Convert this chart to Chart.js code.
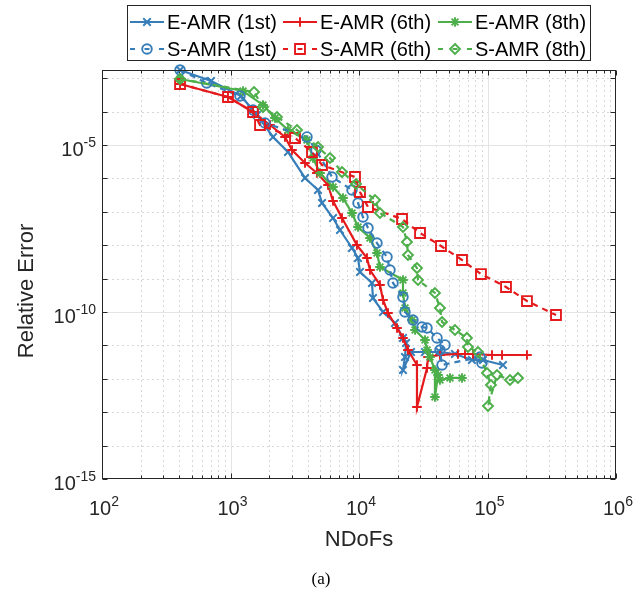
<!DOCTYPE html>
<html>
<head>
<meta charset="utf-8">
<style>
html,body{margin:0;padding:0;background:#ffffff;}
#wrap{position:relative;width:641px;height:592px;}
</style>
<script src="https://cdn.jsdelivr.net/npm/chart.js@4.4.0/dist/chart.umd.min.js"></script>
</head>
<body>
<div id="wrap"><canvas id="c" width="641" height="592"></canvas></div>
<script>
// ---------------- data ----------------
const eAmr1stNdofs = [405, 705, 1207, 1607, 2143, 2801, 3800, 4797, 5155, 6280, 7114, 8822, 9822, 10180, 12620, 12850, 15380, 19060, 21990, 23230, 22800, 21990, 25400, 32640, 42660, 55830, 75680, 92260, 132000];
const eAmr1stErr   = [1.76e-3, 8.24e-4, 2.93e-4, 7.91e-5, 1.74e-5, 6.17e-6, 1.03e-6, 4.50e-7, 1.83e-7, 6.52e-8, 2.85e-8, 8.24e-9, 4.14e-9, 1.58e-9, 7.38e-10, 2.62e-10, 1.0e-10, 4.69e-11, 1.67e-11, 1.18e-11, 4.49e-12, 1.83e-12, 6.34e-12, 6.34e-12, 6.34e-12, 5.52e-12, 3.66e-12, 3.66e-12, 2.59e-12];

const sAmr1stNdofs = [405, 653, 1185, 1497, 1855, 3937, 4626, 6166, 8822, 9822, 10740, 11750, 13800, 16520, 17420, 18390, 21990, 22800, 26300, 30900, 33830, 40460, 46670, 42660, 44260, 87430, 90570];
const sAmr1stErr   = [1.76e-3, 7.18e-4, 2.93e-4, 1.12e-4, 4.56e-5, 1.74e-5, 7.08e-6, 1.10e-6, 4.50e-7, 1.83e-7, 6.98e-8, 3.27e-8, 1.16e-8, 4.43e-9, 1.81e-9, 7.38e-10, 2.81e-10, 1.0e-10, 5.75e-11, 3.56e-11, 3.32e-11, 1.67e-11, 1.03e-11, 7.28e-12, 2.59e-12, 4.49e-12, 2.97e-12];

const eAmr6thNdofs = [405, 956, 1497, 2029, 2655, 3011, 3800, 4700, 5741, 6280, 7376, 9641, 11540, 12180, 14560, 15380, 16820, 19760, 21990, 24050, 28260, 28260, 33830, 34450, 42660, 58900, 66830, 77090, 108400, 129700, 202800];
const eAmr6thErr   = [6.70e-4, 2.74e-4, 9.73e-5, 3.97e-5, 1.74e-5, 7.08e-6, 2.89e-6, 1.45e-6, 6.34e-7, 2.10e-7, 6.52e-8, 1.01e-8, 4.14e-9, 1.81e-9, 6.43e-10, 2.29e-10, 9.33e-11, 3.32e-11, 1.67e-11, 7.28e-12, 2.59e-12, 1.43e-13, 2.10e-12, 4.49e-12, 5.16e-12, 5.52e-12, 5.52e-12, 5.52e-12, 5.16e-12, 5.16e-12, 5.16e-12];

const sAmr6thNdofs = [405, 956, 1497, 1697, 3177, 4306, 5155, 9310, 10180, 11750, 21620, 29850, 43450, 63320, 88920, 139300, 202800, 341200];
const sAmr6thErr   = [6.70e-4, 2.74e-4, 9.73e-5, 3.97e-5, 1.62e-5, 6.17e-6, 2.52e-6, 1.10e-6, 3.92e-7, 1.39e-7, 6.08e-8, 2.32e-8, 9.46e-9, 3.61e-9, 1.37e-9, 5.61e-10, 2.13e-10, 8.13e-11];

const eAmr8thNdofs = [405, 1251, 1790, 2219, 2801, 3937, 4385, 4973, 6280, 7505, 8822, 9822, 12180, 13800, 14560, 21990, 21990, 22800, 25850, 27290, 32640, 33830, 35680, 38990, 38990, 41200, 42660, 51050, 63320];
const eAmr8thErr   = [9.46e-4, 4.14e-4, 1.58e-4, 6.43e-5, 2.81e-5, 1.41e-5, 4.08e-6, 1.45e-6, 5.53e-7, 2.59e-7, 9.21e-8, 3.51e-8, 1.64e-8, 5.84e-9, 2.22e-9, 9.08e-10, 3.71e-10, 1.32e-10, 5.75e-11, 2.89e-11, 1.45e-11, 7.28e-12, 4.49e-12, 1.83e-12, 2.85e-13, 1.30e-12, 9.21e-13, 1.06e-12, 1.06e-12];

const sAmr8thNdofs = [405, 1524, 1790, 2300, 3293, 4797, 5946, 7376, 9480, 13320, 14560, 21990, 23620, 24050, 28260, 28770, 38990, 42660, 44260, 55830, 69180, 70470, 84330, 99080, 106400, 100900, 118600, 149600, 172600];
const sAmr8thErr   = [9.46e-4, 3.86e-4, 1.37e-4, 6.89e-5, 2.81e-5, 8.71e-6, 4.08e-6, 1.55e-6, 6.79e-7, 2.25e-7, 9.21e-8, 3.51e-8, 1.25e-8, 5.09e-9, 2.07e-9, 9.08e-10, 3.71e-10, 1.32e-10, 5.02e-11, 2.89e-11, 1.67e-11, 8.95e-12, 6.34e-12, 1.49e-12, 6.52e-13, 1.53e-13, 1.30e-12, 9.21e-13, 1.06e-12];

const seriesLabels = ['E-AMR (1st)', 'E-AMR (6th)', 'E-AMR (8th)', 'S-AMR (1st)', 'S-AMR (6th)', 'S-AMR (8th)'];

// axis ticks
const xMin = 1e2, xMax = 1e6;
const yMin = 1e-15, yMax = 1.76e-3;
const xDecadeTicks = [1e2, 1e3, 1e4, 1e5, 1e6];
const xMinorMultipliers = [2, 3, 4, 5, 6, 7, 8, 9];
const xTickLabels = ['10^2', '10^3', '10^4', '10^5', '10^6'];
const yDecadeTicks = [1e-15, 1e-14, 1e-13, 1e-12, 1e-11, 1e-10, 1e-9, 1e-8, 1e-7, 1e-6, 1e-5, 1e-4, 1e-3];
const yLabelTicks = [1e-15, 1e-10, 1e-5];
const yTickLabels = ['10^-15', '10^-10', '10^-5'];
const xTitle = 'NDoFs';
const yTitle = 'Relative Error';
const caption = '(a)';

// ---------------- styles ----------------
const BLUE = '#377eb8', RED = '#e41a1c', GREEN = '#4daf4a';
const AX = '#262626';
const SANS = '"Liberation Sans", Arial, Helvetica, sans-serif';
const SERIF = '"Liberation Serif", "Times New Roman", serif';
const DASH = [6, 5];

const styleOf = {
  'E-AMR (1st)': {color: BLUE, marker: 'crossRot', r: 5.3, dash: []},
  'E-AMR (6th)': {color: RED, marker: 'cross', r: 4.8, dash: []},
  'E-AMR (8th)': {color: GREEN, marker: 'star', r: 4.8, dash: []},
  'S-AMR (1st)': {color: BLUE, marker: 'circle', r: 4.8, dash: DASH},
  'S-AMR (6th)': {color: RED, marker: 'rect', r: 7, dash: DASH},
  'S-AMR (8th)': {color: GREEN, marker: 'rectRot', r: 5, dash: DASH}
};

const seriesData = {
  'E-AMR (1st)': [eAmr1stNdofs, eAmr1stErr],
  'E-AMR (6th)': [eAmr6thNdofs, eAmr6thErr],
  'E-AMR (8th)': [eAmr8thNdofs, eAmr8thErr],
  'S-AMR (1st)': [sAmr1stNdofs, sAmr1stErr],
  'S-AMR (6th)': [sAmr6thNdofs, sAmr6thErr],
  'S-AMR (8th)': [sAmr8thNdofs, sAmr8thErr]
};

function makeDataset(label, order) {
  const [xs, ys] = seriesData[label];
  const s = styleOf[label];
  return {
    label,
    data: xs.map((v, i) => ({x: v, y: ys[i]})),
    showLine: true,
    borderColor: s.color,
    backgroundColor: s.color,
    borderWidth: 2.2,
    borderDash: s.dash,
    pointStyle: s.marker,
    pointRadius: s.r,
    pointHoverRadius: s.r,
    pointBorderWidth: 1.9,
    pointBorderColor: s.color,
    pointBackgroundColor: 'rgba(0,0,0,0)',
    tension: 0,
    clip: 10,
    order
  };
}

// ---------------- drawing helpers ----------------
function drawMarker(ctx, style, x, y, r) {
  ctx.beginPath();
  const d = r * Math.SQRT1_2;
  if (style === 'crossRot' || style === 'star') {
    ctx.moveTo(x - d, y - d); ctx.lineTo(x + d, y + d);
    ctx.moveTo(x - d, y + d); ctx.lineTo(x + d, y - d);
  }
  if (style === 'cross' || style === 'star') {
    ctx.moveTo(x - r, y); ctx.lineTo(x + r, y);
    ctx.moveTo(x, y - r); ctx.lineTo(x, y + r);
  }
  if (style === 'circle') { ctx.arc(x, y, r, 0, Math.PI * 2); }
  if (style === 'rect') { ctx.rect(x - d, y - d, 2 * d, 2 * d); }
  if (style === 'rectRot') {
    ctx.moveTo(x, y - r); ctx.lineTo(x + r, y); ctx.lineTo(x, y + r); ctx.lineTo(x - r, y); ctx.closePath();
  }
  ctx.stroke();
}

function drawPowerLabel(ctx, text, x, baseY, align) {
  const [base, exp] = text.split('^');
  ctx.font = '20px ' + SANS;
  const wb = ctx.measureText(base).width;
  ctx.font = '14px ' + SANS;
  const we = ctx.measureText(exp).width;
  const w = wb + we;
  let x0 = align === 'right' ? x - w : x - w / 2;
  ctx.textAlign = 'left';
  ctx.textBaseline = 'alphabetic';
  ctx.font = '20px ' + SANS;
  ctx.fillText(base, x0, baseY);
  ctx.font = '14px ' + SANS;
  ctx.fillText(exp, x0 + wb, baseY - 9);
}

function hline(ctx, x1, x2, y) { ctx.beginPath(); ctx.moveTo(x1, y); ctx.lineTo(x2, y); ctx.stroke(); }
function vline(ctx, x, y1, y2) { ctx.beginPath(); ctx.moveTo(x, y1); ctx.lineTo(x, y2); ctx.stroke(); }

const decorPlugin = {
  id: 'decor',
  beforeDatasetsDraw(chart) {
    const ctx = chart.ctx, a = chart.chartArea, xs = chart.scales.x, ys = chart.scales.y;
    ctx.save();
    ctx.lineWidth = 1;
    // minor grid (dotted)
    ctx.strokeStyle = '#d8d8d8';
    ctx.setLineDash([2, 3]);
    for (let i = 0; i < xDecadeTicks.length - 1; i++) {
      for (const m of xMinorMultipliers) {
        const px = Math.round(xs.getPixelForValue(xDecadeTicks[i] * m)) + 0.5;
        vline(ctx, px, a.top, a.bottom);
      }
    }
    for (const v of yDecadeTicks) {
      if (yLabelTicks.includes(v)) continue;
      const py = Math.round(ys.getPixelForValue(v)) + 0.5;
      hline(ctx, a.left, a.right, py);
    }
    // major grid (solid)
    ctx.setLineDash([]);
    ctx.strokeStyle = '#e4e4e4';
    for (const v of xDecadeTicks.slice(1, -1)) {
      const px = Math.round(xs.getPixelForValue(v)) + 0.5;
      vline(ctx, px, a.top, a.bottom);
    }
    for (const v of yLabelTicks.slice(1)) {
      const py = Math.round(ys.getPixelForValue(v)) + 0.5;
      hline(ctx, a.left, a.right, py);
    }
    // tick marks
    ctx.strokeStyle = AX;
    const L = Math.round(a.left) + 0.5, R = Math.round(a.right) - 0.5;
    const T = Math.round(a.top) + 0.5, B = Math.round(a.bottom) - 0.5;
    for (let i = 0; i < xDecadeTicks.length; i++) {
      const px = Math.round(xs.getPixelForValue(xDecadeTicks[i])) + 0.5;
      vline(ctx, px, B, B - 5); vline(ctx, px, T, T + 5);
      if (i < xDecadeTicks.length - 1) {
        for (const m of xMinorMultipliers) {
          const qx = Math.round(xs.getPixelForValue(xDecadeTicks[i] * m)) + 0.5;
          vline(ctx, qx, B, B - 3); vline(ctx, qx, T, T + 3);
        }
      }
    }
    for (const v of yDecadeTicks) {
      const py = Math.round(ys.getPixelForValue(v)) + 0.5;
      hline(ctx, L, L + 5, py); hline(ctx, R, R - 5, py);
    }
    ctx.restore();
  },
  afterDatasetsDraw(chart) {
    const ctx = chart.ctx, a = chart.chartArea, xs = chart.scales.x, ys = chart.scales.y;
    ctx.save();
    // axes box
    ctx.strokeStyle = AX;
    ctx.lineWidth = 1;
    ctx.strokeRect(Math.round(a.left) + 0.5, Math.round(a.top) + 0.5, Math.round(a.right - a.left) - 1, Math.round(a.bottom - a.top) - 1);
    // tick labels
    ctx.fillStyle = AX;
    xDecadeTicks.forEach((v, i) => {
      drawPowerLabel(ctx, xTickLabels[i], xs.getPixelForValue(v) + 2, a.bottom + 36, 'center');
    });
    yLabelTicks.forEach((v, i) => {
      drawPowerLabel(ctx, yTickLabels[i], a.left - 6, ys.getPixelForValue(v) + 11, 'right');
    });
    // axis titles
    ctx.font = '22px ' + SANS;
    ctx.textAlign = 'center';
    ctx.textBaseline = 'alphabetic';
    ctx.fillText(xTitle, (a.left + a.right) / 2, a.bottom + 67);
    ctx.save();
    ctx.translate(33, 291);
    ctx.rotate(-Math.PI / 2);
    ctx.fillText(yTitle, 0, 0);
    ctx.restore();
    // caption
    ctx.fillStyle = '#000';
    ctx.font = '17px ' + SERIF;
    ctx.fillText(caption, 321, 584);
    // legend
    const bx = 127.5, by = 5.5, bw = 463, bh = 55;
    ctx.fillStyle = '#fff';
    ctx.fillRect(bx, by, bw, bh);
    ctx.strokeStyle = AX;
    ctx.lineWidth = 1;
    ctx.strokeRect(bx, by, bw, bh);
    const colX = [130, 283, 438];
    const rowY = [22, 49];
    seriesLabels.forEach((lab, i) => {
      const s = styleOf[lab];
      const cx = colX[i % 3], cy = rowY[Math.floor(i / 3)];
      ctx.strokeStyle = s.color;
      ctx.lineWidth = 2;
      ctx.setLineDash(s.dash.length ? [5, 9.5] : []);
      hline(ctx, cx, cx + 34, cy);
      ctx.setLineDash([]);
      ctx.lineWidth = 1.9;
      drawMarker(ctx, s.marker, cx + 17, cy, s.r);
      ctx.fillStyle = '#000';
      ctx.font = '20px ' + SANS;
      ctx.textAlign = 'left';
      ctx.textBaseline = 'middle';
      ctx.fillText(lab, cx + 37, cy + 1);
    });
    ctx.restore();
  }
};

const datasets = [
  makeDataset('E-AMR (1st)', 6),
  makeDataset('E-AMR (6th)', 5),
  makeDataset('E-AMR (8th)', 4),
  makeDataset('S-AMR (1st)', 3),
  makeDataset('S-AMR (6th)', 2),
  makeDataset('S-AMR (8th)', 1)
];

new Chart(document.getElementById('c'), {
  type: 'scatter',
  data: {datasets},
  options: {
    responsive: false,
    animation: false,
    events: [],
    layout: {padding: {left: 102, right: 25, top: 70, bottom: 113}},
    plugins: {legend: {display: false}, tooltip: {enabled: false}, title: {display: false}},
    scales: {
      x: {
        type: 'logarithmic', min: xMin, max: xMax,
        grid: {display: false}, border: {display: false},
        ticks: {display: false}, title: {display: false},
        afterFit(scale) { scale.height = 0; }
      },
      y: {
        type: 'logarithmic', min: yMin, max: yMax,
        grid: {display: false}, border: {display: false},
        ticks: {display: false}, title: {display: false},
        afterFit(scale) { scale.width = 0; }
      }
    }
  },
  plugins: [decorPlugin]
});
</script>
</body>
</html>
